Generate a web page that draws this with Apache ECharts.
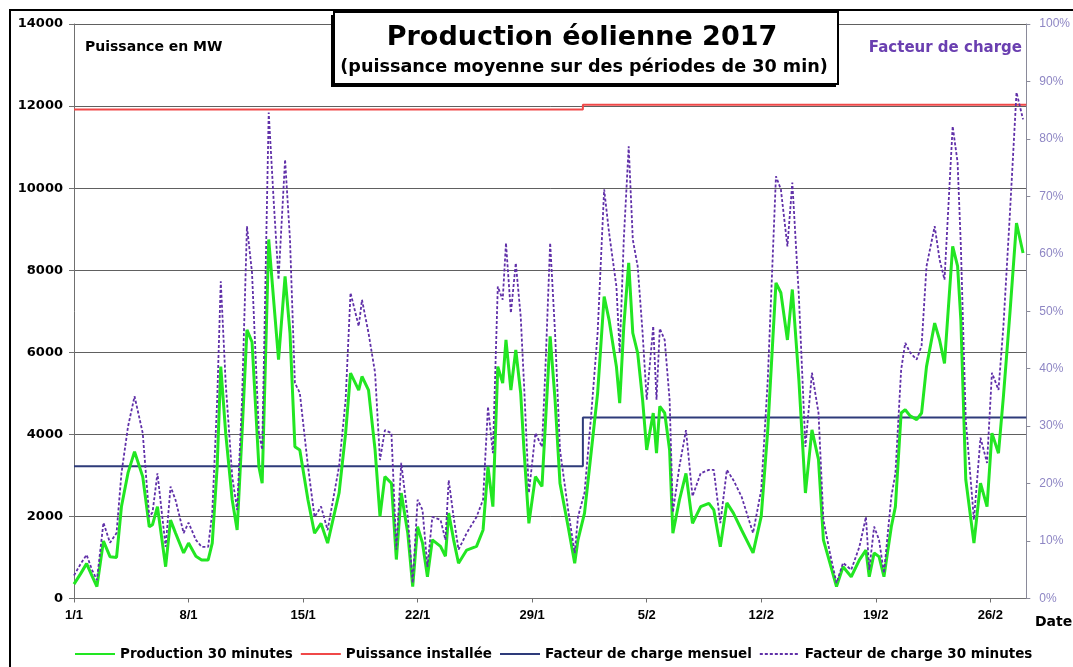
<!DOCTYPE html>
<html>
<head>
<meta charset="utf-8">
<script src="https://cdn.jsdelivr.net/npm/echarts@6/dist/echarts.min.js"></script>
<style>
html,body{margin:0;padding:0;background:#fff;}
#chart{width:1073px;height:667px;}
</style>
</head>
<body>
<div id="chart"></div>
<script>
// Days elapsed since 1 January 2017 (00:00)
const dayOffsets = [
 0.0,0.4,0.77,1.1,1.4,1.8,2.2,2.6,2.9,3.3,3.7,4.2,4.6,4.8,5.1,5.6,5.9,6.2,6.7,7.0,7.45,7.8,8.2,8.45,8.75,8.97,9.27,9.67,9.97,
 10.27,10.57,10.88,11.3,11.5,11.9,12.2,12.5,12.9,13.2,13.5,13.8,14.3,14.7,15.1,15.5,16.2,16.6,16.9,17.4,17.6,18.0,18.4,18.7,19.0,19.4,19.7,
 20.0,20.4,20.7,21.0,21.3,21.6,21.9,22.4,22.7,22.9,23.2,23.5,24.0,24.6,25.0,25.3,25.6,25.9,26.2,26.4,26.7,27.0,27.3,27.5,27.8,28.2,28.6,28.8,
 29.1,29.4,29.7,30.2,30.6,30.8,31.2,31.6,32.0,32.4,32.7,33.15,33.35,33.6,33.9,34.15,34.45,34.75,35.0,35.4,35.6,35.8,36.1,36.4,36.6,37.0,37.4,37.8,
 38.3,38.8,39.1,39.5,39.9,40.3,40.8,41.5,42.0,42.4,42.9,43.2,43.6,43.9,44.3,44.7,45.1,45.5,45.8,46.2,46.6,47.0,47.5,48.0,48.4,48.6,48.9,49.2,49.5,
 49.95,50.2,50.55,50.8,51.1,51.5,51.8,52.1,52.6,52.9,53.2,53.7,54.0,54.2,54.5,55.0,55.4,55.8,56.1,56.5,56.8,57.2,57.6,58.0
];
// Production 30 minutes (MW)
const production = [
 350,600,850,550,290,1400,1020,1000,2240,3060,3580,2970,1750,1800,2240,775,1910,1600,1110,1350,1030,940,940,1350,3210,5650,4030,2400,1670,
 4030,6550,6250,3210,2810,8750,7280,5820,7850,6470,3700,3620,2400,1590,1830,1350,2570,4030,5490,5080,5410,5080,3620,2000,2970,2810,950,
 2570,1590,290,1750,1350,530,1430,1270,1030,2080,1430,860,1180,1270,1670,3210,2240,5650,5250,6300,5080,6060,5000,3620,1830,2970,2730,4190,
 6390,4840,2810,1750,860,1430,2080,3540,5000,7360,6790,5650,4760,6630,8180,6470,5980,4840,3620,4520,3540,4680,4520,3620,1590,2400,3050,1830,
 2240,2320,2160,1260,2330,2080,1670,1110,2000,4110,7690,7450,6300,7530,5330,2570,4110,3380,1430,860,290,775,530,940,1180,530,1110,1020,530,
 1750,2240,4520,4600,4450,4360,4520,5650,6710,6300,5730,8580,8100,6790,2900,1350,2810,2240,4030,3540,4920,6960,9150,8420
];
// Facteur de charge 30 minutes (%)
const loadFactor30 = [
 4.0,6.0,7.6,5.0,3.2,13.2,9.7,11.4,21.8,29.9,35.2,28.8,14.2,15.0,21.8,9.0,19.5,17.2,11.4,13.2,10.2,9.0,9.0,15.0,34.6,55.2,37.5,21.2,15.4,
 34.6,64.8,56.7,28.8,25.9,84.6,69.4,55.5,76.4,62.5,37.5,35.8,23.0,14.2,16.0,11.9,23.0,34.6,53.2,47.4,52.0,46.2,39.3,24.1,29.3,28.8,8.5,
 23.6,14.2,2.7,17.2,15.4,5.5,14.2,13.7,10.2,20.6,14.2,8.5,11.4,14.2,17.2,33.4,25.3,54.3,52.0,61.9,49.7,58.4,49.1,37.5,18.4,28.8,26.4,39.3,
 61.9,46.2,25.9,15.4,7.9,14.2,18.4,31.7,46.2,71.2,63.7,54.3,42.8,62.5,78.7,62.5,57.8,46.2,34.6,47.4,34.6,47.0,45.0,34.6,15.0,23.0,29.3,17.8,
 21.8,22.4,22.4,13.1,22.4,20.6,17.7,11.4,18.9,38.1,73.5,71.2,61.3,72.4,52.6,26.4,39.3,32.3,13.7,7.9,2.7,6.2,5.0,9.0,14.2,5.0,12.5,10.2,4.4,
 17.7,21.8,39.8,44.5,42.8,41.6,44.0,57.8,64.8,59.0,55.5,82.2,75.9,61.3,31.1,13.7,28.0,23.6,39.3,36.3,47.4,67.1,88.1,83.4
];
// Monthly values: start day of each month period, installed power (MW), monthly load factor (%)
const monthStarts = [0, 31.1];
const periodEnd = 58.2;
const installedPower = [11915, 12030];
const monthlyFactor = [23.0, 31.5];
const yLeftTicks = {min: 0, max: 14000, interval: 2000};
const yRightTicks = {min: 0, max: 100, interval: 10};
const xTickInterval = 7;

const font = 'Liberation Sans, Arial, sans-serif';
const wide = '"DejaVu Sans", Verdana, sans-serif';
const zip = (xs, ys) => xs.map((x, i) => [x, ys[i]]);
const stepData = vals => monthStarts.map((d, i) => [d, vals[i]]).concat([[periodEnd, vals[vals.length - 1]]]);

const chart = echarts.init(document.getElementById('chart'), null, {renderer: 'canvas'});
chart.setOption({
  animation: false,
  backgroundColor: '#ffffff',
  grid: {left: 74, right: 42, top: 24, bottom: 68.5, containLabel: false},
  xAxis: {
    type: 'value', min: 0, max: periodEnd, interval: xTickInterval,
    axisLine: {lineStyle: {color: '#707070', width: 1}},
    axisTick: {show: true, length: 4, lineStyle: {color: '#707070'}},
    splitLine: {show: false},
    axisLabel: {
      showMaxLabel: false, margin: 10, color: '#000', fontWeight: 'bold', fontSize: 13, fontFamily: font,
      formatter: v => {
        if (Math.abs(v % xTickInterval) > 1e-6) return '';
        const d = new Date(Date.UTC(2017, 0, 1) + v * 86400000);
        return d.getUTCDate() + '/' + (d.getUTCMonth() + 1);
      }
    }
  },
  yAxis: [
    {
      type: 'value', min: yLeftTicks.min, max: yLeftTicks.max, interval: yLeftTicks.interval,
      axisLine: {show: true, lineStyle: {color: '#707070'}},
      axisTick: {show: true, length: 5, lineStyle: {color: '#707070'}},
      splitLine: {show: true, lineStyle: {color: '#606060', width: 1}},
      axisLabel: {color: '#000', fontWeight: 'bold', fontSize: 13, fontFamily: wide, margin: 11, formatter: v => String(v)}
    },
    {
      type: 'value', min: yRightTicks.min, max: yRightTicks.max, interval: yRightTicks.interval,
      position: 'right',
      axisLine: {show: true, lineStyle: {color: '#8a8a9a'}},
      axisTick: {show: true, length: 4, lineStyle: {color: '#8a8a9a'}},
      splitLine: {show: false},
      axisLabel: {color: '#8e86c4', fontSize: 12, fontFamily: font, margin: 13, formatter: '{value}%'}
    }
  ],
  legend: {
    left: 69, top: 642, itemGap: 7, itemWidth: 40, itemHeight: 10,
    itemStyle: {opacity: 0},
    textStyle: {color: '#000', fontWeight: 'bold', fontSize: 13.5, fontFamily: wide},
    data: ['Production 30 minutes', 'Puissance installée', 'Facteur de charge mensuel', 'Facteur de charge 30 minutes']
  },
  series: [
    {
      name: 'Production 30 minutes', type: 'line', symbol: 'none', z: 3,
      data: zip(dayOffsets, production),
      lineStyle: {color: '#22e622', width: 3}, itemStyle: {color: '#22e622'}
    },
    {
      name: 'Puissance installée', type: 'line', symbol: 'none', step: 'end', z: 2,
      data: stepData(installedPower),
      lineStyle: {color: '#f04848', width: 2}, itemStyle: {color: '#f04848'}
    },
    {
      name: 'Facteur de charge mensuel', type: 'line', symbol: 'none', step: 'end', yAxisIndex: 1, z: 2,
      data: stepData(monthlyFactor),
      lineStyle: {color: '#2e3b7a', width: 2}, itemStyle: {color: '#2e3b7a'}
    },
    {
      name: 'Facteur de charge 30 minutes', type: 'line', symbol: 'none', yAxisIndex: 1, z: 4,
      data: zip(dayOffsets, loadFactor30),
      lineStyle: {color: '#6030a8', width: 1.8, type: [3, 2]}, itemStyle: {color: '#6030a8'}
    }
  ],
  graphic: [
    {type: 'rect', shape: {x: 10, y: 10, width: 1100, height: 700}, style: {fill: null, stroke: '#000', lineWidth: 2}, z: 100, silent: true},
    {type: 'rect', shape: {x: 331, y: 15, width: 505, height: 72}, style: {fill: '#000'}, z: 101},
    {type: 'rect', shape: {x: 334, y: 12, width: 504, height: 72}, style: {fill: '#fff', stroke: '#000', lineWidth: 2}, z: 102},
    {type: 'text', style: {x: 582, y: 38, text: 'Production éolienne 2017', textAlign: 'center', textVerticalAlign: 'middle', font: 'bold 27px ' + wide, fill: '#000'}, z: 103},
    {type: 'text', style: {x: 584, y: 67, text: '(puissance moyenne sur des périodes de 30 min)', textAlign: 'center', textVerticalAlign: 'middle', font: 'bold 17.6px ' + wide, fill: '#000'}, z: 103},
    {type: 'text', style: {x: 85, y: 47, text: 'Puissance en MW', textAlign: 'left', textVerticalAlign: 'middle', font: 'bold 14px ' + wide, fill: '#000'}, z: 103},
    {type: 'text', style: {x: 1022, y: 48, text: 'Facteur de charge', textAlign: 'right', textVerticalAlign: 'middle', font: 'bold 15px ' + wide, fill: '#6a3fb0'}, z: 103},
    {type: 'text', style: {x: 1035, y: 622, text: 'Date', textAlign: 'left', textVerticalAlign: 'middle', font: 'bold 14px ' + wide, fill: '#000'}, z: 103}
  ]
});
</script>
</body>
</html>
